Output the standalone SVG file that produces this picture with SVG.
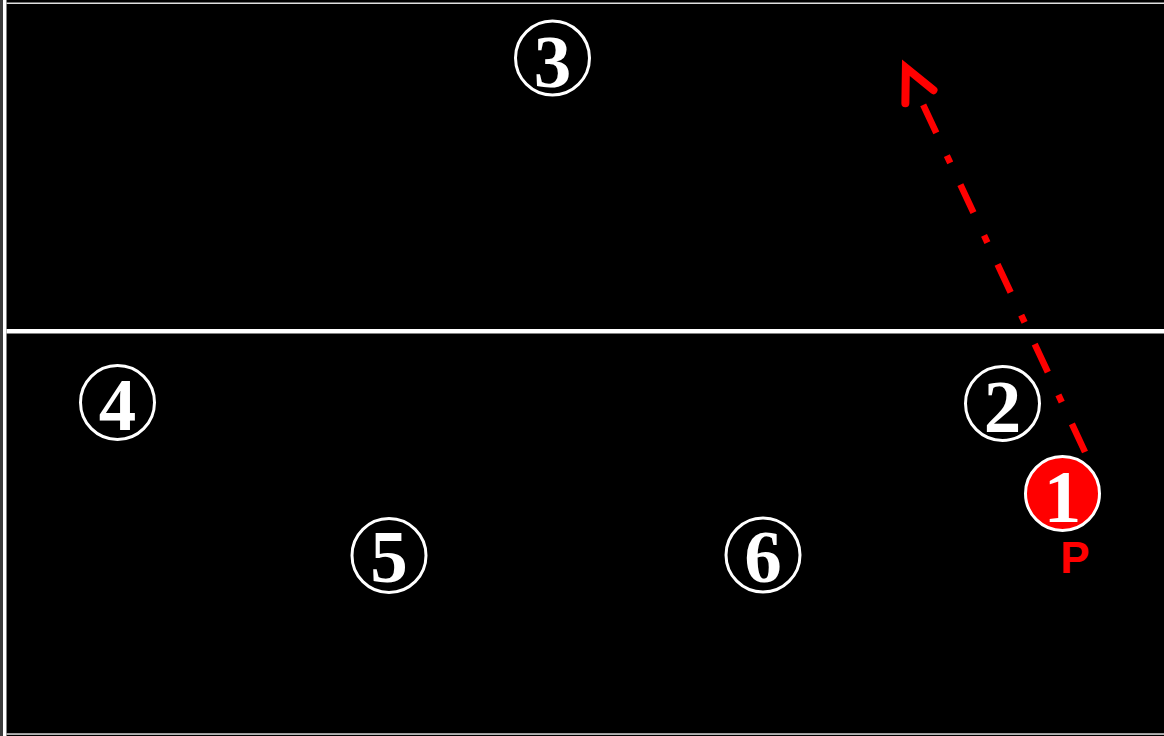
<svg xmlns="http://www.w3.org/2000/svg" width="1164" height="736" viewBox="0 0 1164 736">
  <style>
    .pos circle { fill: #000; stroke: #fff; stroke-width: 3; }
    .pos text { font-family: "Liberation Serif", "Times New Roman", serif; font-weight: bold; font-size: 75px; fill: #fff; text-anchor: middle; }
    #p1 circle { fill: #ff0000; }
    .lbl { font-family: "Liberation Sans", Arial, sans-serif; font-weight: bold; font-size: 44px; fill: #ff0000; text-anchor: middle; }
    .move { fill: none; stroke: #ff0000; stroke-width: 6.5; stroke-dasharray: 31 24 8 25; }
  </style>
  <defs>
    <marker id="chev" markerUnits="userSpaceOnUse" orient="auto" refX="0" refY="0" markerWidth="60" markerHeight="60" viewBox="-10 -30 60 60" overflow="visible">
      <path d="M 8,-15.5 L 40,0 L 8,15.5" fill="none" stroke="#ff0000" stroke-width="8" stroke-linecap="round" stroke-linejoin="miter"/>
    </marker>
  </defs>

  <g id="court">
    <rect x="0" y="0" width="1164" height="736" fill="#000"/>
    <rect x="0" y="0" width="3" height="736" fill="#3c3c3c"/>
    <rect x="3" y="0" width="3.5" height="736" fill="#fff"/>
    <rect x="6.5" y="2.5" width="1157.5" height="1.5" fill="#e0e0e0"/>
    <rect x="6.5" y="329" width="1157.5" height="4.5" fill="#fff"/>
    <rect x="6.5" y="733.3" width="1157.5" height="1.5" fill="#e0e0e0"/>
  </g>

  <g id="connectors">
    <path class="move" d="M 1085,452 L 922.8,104" marker-end="url(#chev)"/>
  </g>

  <g id="p3" class="pos">
    <circle cx="552.5" cy="58" r="37"/>
    <text x="552.5" y="87">3</text>
  </g>
  <g id="p4" class="pos">
    <circle cx="117.5" cy="402.5" r="37"/>
    <text x="117.5" y="430">4</text>
  </g>
  <g id="p2" class="pos">
    <circle cx="1002.5" cy="403.5" r="37"/>
    <text x="1002.5" y="432">2</text>
  </g>
  <g id="p5" class="pos">
    <circle cx="389" cy="555.5" r="37"/>
    <text x="389" y="582">5</text>
  </g>
  <g id="p6" class="pos">
    <circle cx="763" cy="555" r="37"/>
    <text x="763" y="582">6</text>
  </g>
  <g id="p1" class="pos">
    <circle cx="1062.5" cy="493.5" r="37"/>
    <text x="1062.5" y="522">1</text>
  </g>
  <g id="labelP">
    <text class="lbl" x="1075" y="573">P</text>
  </g>
</svg>
